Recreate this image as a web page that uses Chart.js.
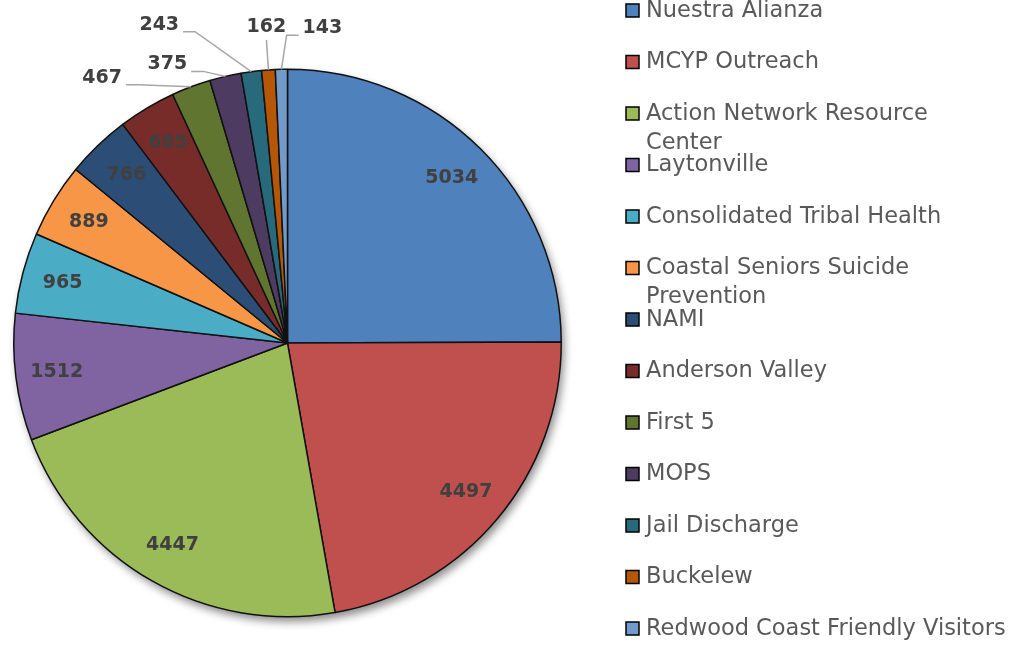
<!DOCTYPE html>
<html>
<head>
<meta charset="utf-8">
<script src="https://cdn.jsdelivr.net/npm/chart.js@4.4.0/dist/chart.umd.min.js"></script>
<style>
  html, body { margin: 0; padding: 0; background: #fff; }
  #wrap { width: 1019px; height: 646px; position: relative; }
</style>
</head>
<body>
<div id="wrap"><canvas id="canvas"></canvas></div>
<script>
// chart data
const programs = [
  "Nuestra Alianza",
  "MCYP Outreach",
  ["Action Network Resource", "Center"],
  "Laytonville",
  "Consolidated Tribal Health",
  ["Coastal Seniors Suicide", "Prevention"],
  "NAMI",
  "Anderson Valley",
  "First 5",
  "MOPS",
  "Jail Discharge",
  "Buckelew",
  "Redwood Coast Friendly Visitors"
];
const visits = [5034, 4497, 4447, 1512, 965, 889, 766, 685, 467, 375, 243, 162, 143];

const sliceColors = [
  "#4f81bd", "#c0504d", "#9bbb59", "#8064a2", "#4bacc6", "#f79646",
  "#2c4d75", "#772c2a", "#5f7530", "#4d3b62", "#276a7c", "#b65708", "#729aca"
];

// label placement for the small slices: offset from the slice's outer edge
const callouts = {
  8:  { dx: -89, dy: -9 },
  9:  { dx: -58, dy: -12 },
  10: { dx: -92, dy: -47 },
  11: { dx: -2,  dy: -43 },
  12: { dx: 41,  dy: -41 }
};

const textGray = "#595959";
const labelGray = "#404040";
const legendFont = "22.5px 'DejaVu Sans'";
const valueFont = "bold 19px 'DejaVu Sans'";

const shadowPlugin = {
  id: "shadow",
  beforeDatasetsDraw(chart) {
    const arc = chart.getDatasetMeta(0).data[0];
    if (!arc) return;
    const ctx = chart.ctx;
    ctx.save();
    ctx.shadowColor = "rgba(0,0,0,0.45)";
    ctx.shadowBlur = 8;
    ctx.shadowOffsetX = 3;
    ctx.shadowOffsetY = 5;
    ctx.fillStyle = "#fff";
    ctx.beginPath();
    ctx.arc(arc.x, arc.y, arc.outerRadius, 0, Math.PI * 2);
    ctx.fill();
    ctx.restore();
  }
};

const valueLabels = {
  id: "valueLabels",
  afterDatasetsDraw(chart) {
    const ctx = chart.ctx;
    const arcs = chart.getDatasetMeta(0).data;
    ctx.save();
    ctx.font = valueFont;
    ctx.textBaseline = "middle";
    ctx.textAlign = "center";
    arcs.forEach((arc, i) => {
      const mid = (arc.startAngle + arc.endAngle) / 2;
      const text = String(visits[i]);
      if (!callouts[i]) {
        const r = arc.outerRadius * 0.85;
        ctx.fillStyle = labelGray;
        ctx.fillText(text, arc.x + Math.cos(mid) * r, arc.y + Math.sin(mid) * r);
        return;
      }
      const ex = arc.x + Math.cos(mid) * arc.outerRadius;
      const ey = arc.y + Math.sin(mid) * arc.outerRadius;
      const lx = ex + callouts[i].dx;
      const ly = ey + callouts[i].dy;
      const w = ctx.measureText(text).width;
      const side = callouts[i].dx < -10 ? 1 : (callouts[i].dx > 10 ? -1 : 0);
      ctx.strokeStyle = "#a6a6a6";
      ctx.lineWidth = 1.5;
      ctx.beginPath();
      if (side === 0) {
        ctx.moveTo(lx, ly + 13);
        ctx.lineTo(ex, ey);
      } else {
        const sx = lx + side * (w / 2 + 4);
        ctx.moveTo(sx, ly + 7);
        ctx.lineTo(sx + side * 12, ly + 7);
        ctx.lineTo(ex, ey);
      }
      ctx.stroke();
      ctx.fillStyle = labelGray;
      ctx.fillText(text, lx, ly);
    });
    ctx.restore();
  }
};

const sideLegend = {
  id: "sideLegend",
  afterDraw(chart) {
    const ctx = chart.ctx;
    ctx.save();
    ctx.font = legendFont;
    ctx.textBaseline = "middle";
    ctx.textAlign = "left";
    programs.forEach((name, i) => {
      const y = 10 + i * 51.5;
      ctx.fillStyle = sliceColors[i];
      ctx.fillRect(626, y - 6, 13, 13);
      ctx.strokeStyle = "#000";
      ctx.lineWidth = 1.5;
      ctx.strokeRect(626, y - 6, 13, 13);
      const lines = Array.isArray(name) ? name : [name];
      ctx.fillStyle = textGray;
      lines.forEach((ln, k) => ctx.fillText(ln, 646, y + 1 + k * 29));
    });
    ctx.restore();
  }
};

new Chart(document.getElementById("canvas"), {
  type: "pie",
  data: {
    labels: programs,
    datasets: [{
      data: visits,
      backgroundColor: sliceColors,
      borderColor: "#111",
      borderWidth: 1.5,
      hoverOffset: 0
    }]
  },
  options: {
    responsive: true,
    maintainAspectRatio: false,
    animation: false,
    layout: { padding: { left: 13, top: 68, right: 457, bottom: 28 } },
    plugins: {
      legend: { display: false },
      tooltip: { enabled: false }
    }
  },
  plugins: [shadowPlugin, valueLabels, sideLegend]
});
</script>
</body>
</html>
